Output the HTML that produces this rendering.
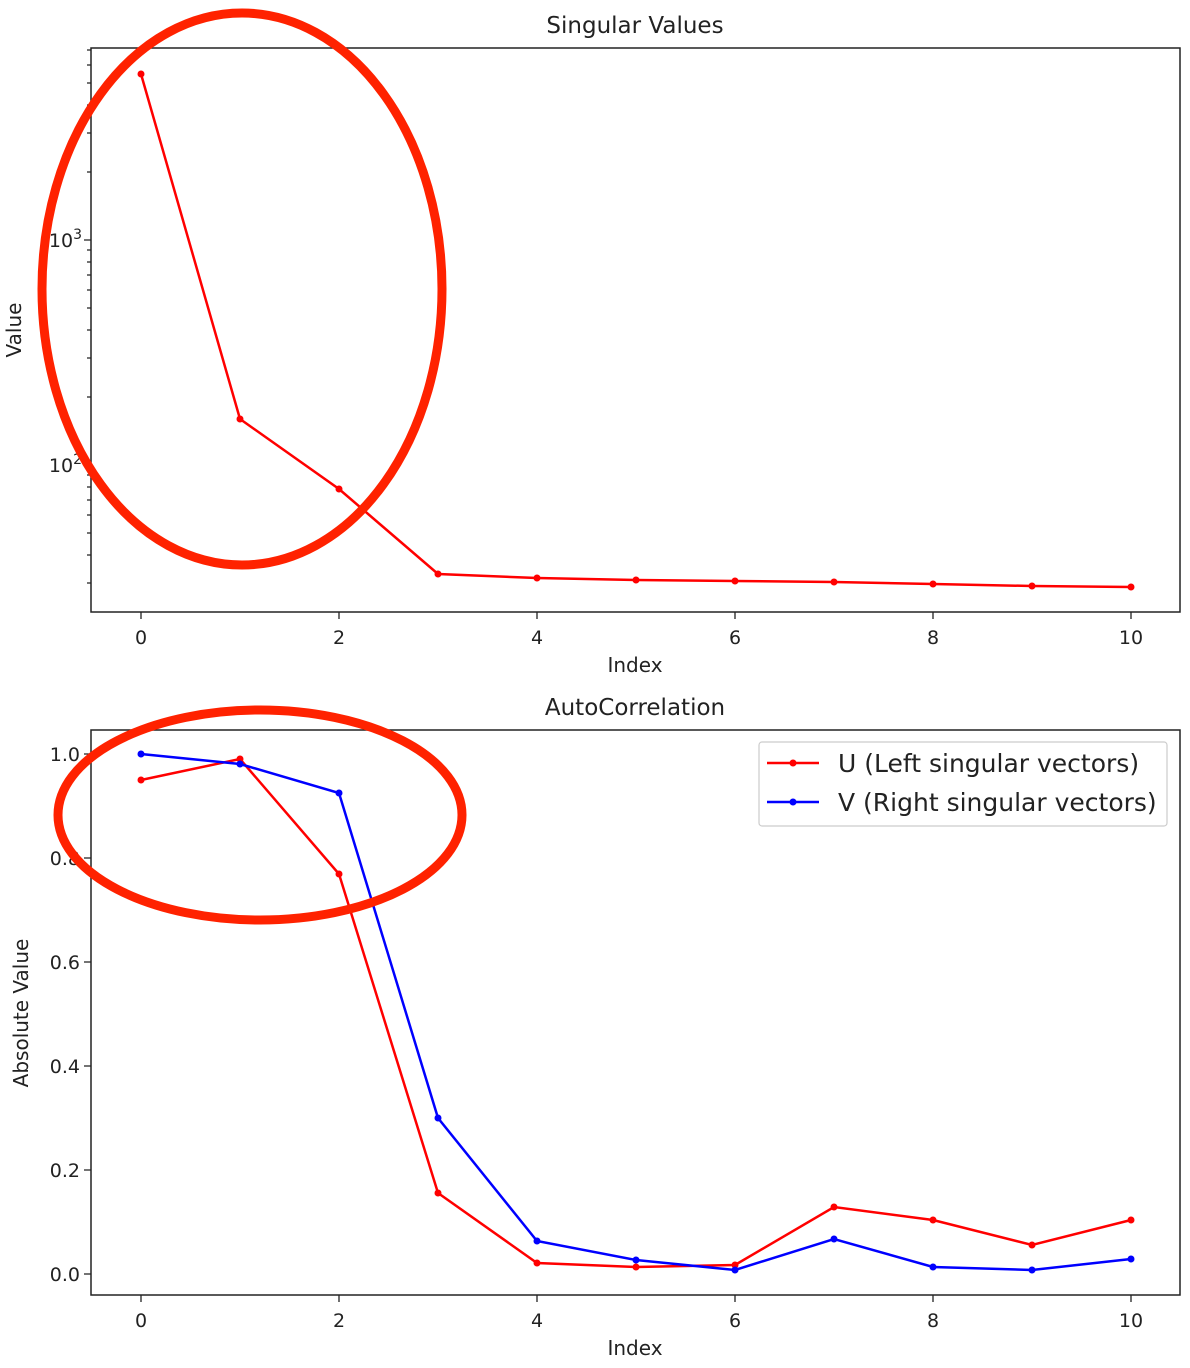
<!DOCTYPE html>
<html><head><meta charset="utf-8"><style>body{margin:0;background:#fff}svg{display:block}text{font-family:"DejaVu Sans","Liberation Sans",sans-serif;fill:#222}</style></head>
<body>
<svg width="1190" height="1368" viewBox="0 0 1190 1368" xmlns="http://www.w3.org/2000/svg">
<rect width="1190" height="1368" fill="#fff"/>
<!-- Top plot -->
<text x="635" y="33" font-size="23" text-anchor="middle">Singular Values</text>
<rect x="91" y="48" width="1089" height="564" fill="none" stroke="#222" stroke-width="1.5"/>
<g stroke="#222" stroke-width="1.3">
<path d="M91 240h-7M91 465h-7"/>
<path d="M91 583h-4M91 555h-4M91 533h-4M91 515h-4M91 500h-4M91 487h-4M91 475h-4M91 397h-4M91 358h-4M91 330h-4M91 308h-4M91 290h-4M91 275h-4M91 262h-4M91 250h-4M91 172h-4M91 133h-4M91 105h-4M91 83h-4M91 65h-4M91 50h-4"/>
<path d="M141 612v7M339 612v7M537 612v7M735 612v7M933 612v7M1131 612v7"/>
</g>
<text x="82" y="247" font-size="19" text-anchor="end">10<tspan dy="-8" font-size="14">3</tspan></text>
<text x="82" y="472" font-size="19" text-anchor="end">10<tspan dy="-8" font-size="14">2</tspan></text>
<g font-size="19" text-anchor="middle">
<text x="141" y="644">0</text><text x="339" y="644">2</text><text x="537" y="644">4</text><text x="735" y="644">6</text><text x="933" y="644">8</text><text x="1131" y="644">10</text>
</g>
<text x="635" y="672" font-size="20" text-anchor="middle">Index</text>
<text transform="translate(21,330) rotate(-90)" font-size="20" text-anchor="middle">Value</text>
<polyline fill="none" stroke="#ff0000" stroke-width="2.5" points="141,74 240,419 339,489 438,574 537,578 636,580 735,581 834,582 933,584 1032,586 1131,587"/>
<g fill="#ff0000"><circle cx="141" cy="74" r="3.5"/><circle cx="240" cy="419" r="3.5"/><circle cx="339" cy="489" r="3.5"/><circle cx="438" cy="574" r="3.5"/><circle cx="537" cy="578" r="3.5"/><circle cx="636" cy="580" r="3.5"/><circle cx="735" cy="581" r="3.5"/><circle cx="834" cy="582" r="3.5"/><circle cx="933" cy="584" r="3.5"/><circle cx="1032" cy="586" r="3.5"/><circle cx="1131" cy="587" r="3.5"/></g>

<!-- Bottom plot -->
<text x="635" y="715" font-size="23" text-anchor="middle">AutoCorrelation</text>
<rect x="91" y="730" width="1089" height="565" fill="none" stroke="#222" stroke-width="1.5"/>
<g stroke="#222" stroke-width="1.3">
<path d="M91 754h-7M91 858h-7M91 962h-7M91 1066h-7M91 1170h-7M91 1274h-7"/>
<path d="M141 1295v7M339 1295v7M537 1295v7M735 1295v7M933 1295v7M1131 1295v7"/>
</g>
<g font-size="19" text-anchor="end">
<text x="80" y="761">1.0</text><text x="80" y="865">0.8</text><text x="80" y="969">0.6</text><text x="80" y="1073">0.4</text><text x="80" y="1177">0.2</text><text x="80" y="1281">0.0</text>
</g>
<g font-size="19" text-anchor="middle">
<text x="141" y="1327">0</text><text x="339" y="1327">2</text><text x="537" y="1327">4</text><text x="735" y="1327">6</text><text x="933" y="1327">8</text><text x="1131" y="1327">10</text>
</g>
<text x="635" y="1355" font-size="20" text-anchor="middle">Index</text>
<text transform="translate(28,1013) rotate(-90)" font-size="20" text-anchor="middle">Absolute Value</text>
<polyline fill="none" stroke="#ff0000" stroke-width="2.5" points="141,780 240,759 339,874 438,1193 537,1263 636,1267 735,1265 834,1207 933,1220 1032,1245 1131,1220"/>
<g fill="#ff0000"><circle cx="141" cy="780" r="3.5"/><circle cx="240" cy="759" r="3.5"/><circle cx="339" cy="874" r="3.5"/><circle cx="438" cy="1193" r="3.5"/><circle cx="537" cy="1263" r="3.5"/><circle cx="636" cy="1267" r="3.5"/><circle cx="735" cy="1265" r="3.5"/><circle cx="834" cy="1207" r="3.5"/><circle cx="933" cy="1220" r="3.5"/><circle cx="1032" cy="1245" r="3.5"/><circle cx="1131" cy="1220" r="3.5"/></g>
<polyline fill="none" stroke="#0000ff" stroke-width="2.5" points="141,754 240,764 339,793 438,1118 537,1241 636,1260 735,1270 834,1239 933,1267 1032,1270 1131,1259"/>
<g fill="#0000ff"><circle cx="141" cy="754" r="3.5"/><circle cx="240" cy="764" r="3.5"/><circle cx="339" cy="793" r="3.5"/><circle cx="438" cy="1118" r="3.5"/><circle cx="537" cy="1241" r="3.5"/><circle cx="636" cy="1260" r="3.5"/><circle cx="735" cy="1270" r="3.5"/><circle cx="834" cy="1239" r="3.5"/><circle cx="933" cy="1267" r="3.5"/><circle cx="1032" cy="1270" r="3.5"/><circle cx="1131" cy="1259" r="3.5"/></g>
<!-- legend -->
<rect x="759" y="742" width="408" height="84" rx="3" fill="#fff" stroke="#ccc" stroke-width="1.2"/>
<path d="M767 763h52" stroke="#ff0000" stroke-width="2.5"/><circle cx="793" cy="763" r="3.5" fill="#ff0000"/>
<path d="M767 802h52" stroke="#0000ff" stroke-width="2.5"/><circle cx="793" cy="802" r="3.5" fill="#0000ff"/>
<text x="838" y="772" font-size="25">U (Left singular vectors)</text>
<text x="838" y="811" font-size="25">V (Right singular vectors)</text>

<!-- annotation ellipses -->
<ellipse cx="242" cy="289" rx="200" ry="276" fill="none" stroke="#ff2200" stroke-width="9"/>
<ellipse cx="260" cy="815" rx="202" ry="105" fill="none" stroke="#ff2200" stroke-width="9"/>
</svg>
</body></html>
